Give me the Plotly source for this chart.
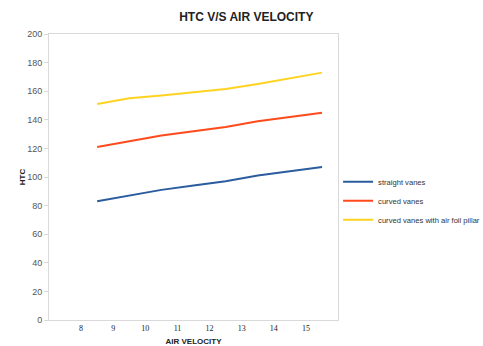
import plotly.graph_objects as go

air_velocity = [8.5, 9.5, 10.5, 11.5, 12.5, 13.5, 14.5, 15.5]
straight_vanes = [83, 87, 91, 94, 97, 101, 104, 107]
curved_vanes = [121, 125, 129, 132, 135, 139, 142, 145]
curved_vanes_airfoil = [151, 155, 157, 159.5, 161.5, 165, 169, 173]
x_tick_vals = [8, 9, 10, 11, 12, 13, 14, 15]
y_tick_vals = [0, 20, 40, 60, 80, 100, 120, 140, 160, 180, 200]

fig = go.Figure()
fig.add_trace(go.Scatter(x=air_velocity, y=straight_vanes, mode="lines",
                         name="straight vanes", line=dict(color="#2A5C9E", width=2)))
fig.add_trace(go.Scatter(x=air_velocity, y=curved_vanes, mode="lines",
                         name="curved vanes", line=dict(color="#FF4A1C", width=2)))
fig.add_trace(go.Scatter(x=air_velocity, y=curved_vanes_airfoil, mode="lines",
                         name="curved vanes with air foil pillar", line=dict(color="#FFD320", width=2)))

fig.update_layout(
    width=483, height=346,
    margin=dict(l=49, r=144, t=34, b=26),
    paper_bgcolor="white", plot_bgcolor="white",
    font=dict(family="Liberation Sans, Arial, sans-serif", color="#333333"),
    title=dict(text="<b>HTC V/S AIR VELOCITY</b>", x=0.51, xanchor="center",
               y=0.951, yanchor="middle", font=dict(size=12, color="#222222")),
    showlegend=True,
    legend=dict(xref="container", yref="container", x=0.70, xanchor="left",
                y=0.42, yanchor="middle",
                font=dict(size=7.6, color="#333333"), bgcolor="rgba(0,0,0,0)",
                itemwidth=30, tracegroupgap=0),
    xaxis=dict(range=[7, 16], tickvals=x_tick_vals, ticktext=[str(v) for v in x_tick_vals],
               showgrid=False, zeroline=False, showline=True, mirror=True,
               linecolor="#D9D9D9", linewidth=1, ticks="",
               tickfont=dict(family="Liberation Serif, Times New Roman, serif", size=8, color="#222222"),
               title=dict(text="<b>AIR VELOCITY</b>", font=dict(size=8, color="#222222"), standoff=6),
               automargin=False),
    yaxis=dict(range=[0, 200], tickvals=y_tick_vals, showgrid=False, zeroline=False,
               showline=True, mirror=True, linecolor="#D9D9D9", linewidth=1,
               ticks="outside", ticklen=4, tickcolor="#D9D9D9",
               tickfont=dict(size=9, color="#555555"),
               title=dict(text="<b>HTC</b>", font=dict(size=8, color="#222222"), standoff=0),
               automargin=False),
)

fig.write_html("out.html")
